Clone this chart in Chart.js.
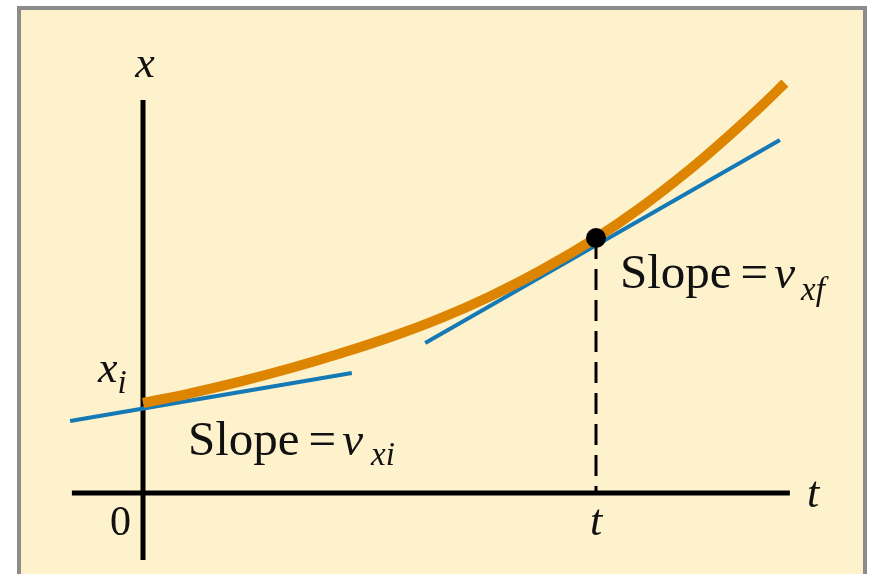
<!DOCTYPE html>
<html lang="en">
<head>
    <meta charset="UTF-8">
    <title>Posición contra tiempo</title>
    <script src="https://cdn.jsdelivr.net/npm/chart.js"></script>
    <style>
        html, body {
            margin: 0;
            padding: 0;
            background: #ffffff;
        }
        body {
            width: 873px;
            height: 574px;
            overflow: hidden;
            position: relative;
        }
        .panel {
            position: absolute;
            left: 17px;
            top: 6px;
            width: 842px;
            height: 600px;
            border: 4px solid #8c8c8c;
            background: #fef2cd;
        }
        #graph {
            position: absolute;
            left: 0;
            top: 0;
        }
    </style>
</head>
<body>
    <div class="panel"></div>
    <canvas id="graph" width="873" height="574"></canvas>

    <script>
        // curva x(t)
        const curveT = [0, 1.04, 2.14, 3.25, 4.35, 5.45, 6.56, 7.66, 8.76, 10, 10.97, 12.08, 12.96, 13.69, 14.17];
        const curveX = [9.0, 9.97, 11.14, 12.47, 13.95, 15.58, 17.47, 19.66, 22.2, 25.5, 28.49, 32.39, 35.83, 38.87, 40.98];

        // tangentes (inicial y final)
        const tangentInT = [-1.61, 4.61];
        const tangentInX = [7.2, 12.0];
        const tangentFinT = [6.23, 14.06];
        const tangentFinX = [15.0, 35.3];

        // punto en t y su guía
        const dotT = [10];
        const dotX = [25.5];
        const guideT = [10, 10];
        const guideX = [25.5, 0];

        // ejes
        const timeAxisT = [-1.57, 14.28];
        const timeAxisX = [0, 0];
        const posAxisT = [0, 0];
        const posAxisX = [39.3, -6.7];

        const toPts = (ts, xs) => ts.map((t, i) => ({ x: t, y: xs[i] }));

        const serif = '"Liberation Serif", "DejaVu Serif", serif';

        function drawRuns(ctx, x, y, runs) {
            let cx = x;
            runs.forEach(r => {
                ctx.font = r.font;
                ctx.fillText(r.text, cx, y + (r.dy || 0));
                cx += ctx.measureText(r.text).width + (r.gap || 0);
            });
        }

        const labelPlugin = {
            id: 'labels',
            afterDatasetsDraw(chart) {
                const ctx = chart.ctx;
                const sx = chart.scales.x;
                const sy = chart.scales.y;
                const px = t => sx.getPixelForValue(t);
                const py = v => sy.getPixelForValue(v);
                const lbl = 'italic 44px ' + serif;
                const big = 'italic 47px ' + serif;
                const sub = 'italic 33px ' + serif;
                const rom = '49px ' + serif;

                ctx.save();
                ctx.fillStyle = '#111';
                ctx.textBaseline = 'alphabetic';

                // x (eje vertical)
                ctx.textAlign = 'center';
                ctx.font = lbl;
                ctx.fillText('x', px(posAxisT[0]) + 2, py(posAxisX[0]) - 23);

                // t (eje horizontal)
                ctx.textAlign = 'left';
                ctx.fillText('t', px(timeAxisT[1]) + 17, py(0) + 14);

                // t bajo el punto
                ctx.textAlign = 'center';
                ctx.fillText('t', px(dotT[0]), py(0) + 42);

                // 0
                ctx.textAlign = 'right';
                ctx.font = '42px ' + serif;
                ctx.fillText('0', px(0) - 12, py(0) + 42);

                // x_i
                ctx.textAlign = 'left';
                drawRuns(ctx, px(0) - 45, py(curveX[0]) - 21, [
                    { text: 'x', font: lbl },
                    { text: 'i', font: sub, dy: 11 }
                ]);

                // Slope = v_xi
                drawRuns(ctx, px(0) + 45, py(0) - 38, [
                    { text: 'Slope', font: rom, gap: 9 },
                    { text: '=', font: rom, gap: 6 },
                    { text: 'v', font: big, gap: 8 },
                    { text: 'xi', font: sub, dy: 10 }
                ]);

                // Slope = v_xf
                drawRuns(ctx, px(dotT[0]) + 24, py(dotX[0]) + 50, [
                    { text: 'Slope', font: rom, gap: 9 },
                    { text: '=', font: rom, gap: 6 },
                    { text: 'v', font: big, gap: 6 },
                    { text: 'xf', font: sub, dy: 12 }
                ]);

                ctx.restore();
            }
        };

        const ctx = document.getElementById('graph').getContext('2d');
        new Chart(ctx, {
            type: 'scatter',
            data: {
                datasets: [
                    {
                        data: toPts(dotT, dotX),
                        pointRadius: 10,
                        pointBackgroundColor: '#000',
                        pointBorderWidth: 0
                    },
                    {
                        data: toPts(curveT, curveX),
                        showLine: true,
                        borderColor: '#dd8500',
                        borderWidth: 10,
                        borderCapStyle: 'butt',
                        tension: 0.4,
                        pointRadius: 0
                    },
                    {
                        data: toPts(tangentInT, tangentInX),
                        showLine: true,
                        borderColor: '#1479b4',
                        borderWidth: 4,
                        pointRadius: 0
                    },
                    {
                        data: toPts(tangentFinT, tangentFinX),
                        showLine: true,
                        borderColor: '#1479b4',
                        borderWidth: 4,
                        pointRadius: 0
                    },
                    {
                        data: toPts(guideT, guideX),
                        showLine: true,
                        borderColor: '#000',
                        borderWidth: 3,
                        borderDash: [21, 10],
                        pointRadius: 0
                    },
                    {
                        data: toPts(timeAxisT, timeAxisX),
                        showLine: true,
                        borderColor: '#000',
                        borderWidth: 5,
                        borderCapStyle: 'butt',
                        pointRadius: 0
                    },
                    {
                        data: toPts(posAxisT, posAxisX),
                        showLine: true,
                        borderColor: '#000',
                        borderWidth: 5,
                        borderCapStyle: 'butt',
                        pointRadius: 0
                    }
                ]
            },
            options: {
                responsive: false,
                animation: false,
                layout: { padding: 0, autoPadding: false },
                scales: {
                    x: { type: 'linear', display: false, min: -3.157, max: 16.115 },
                    y: { type: 'linear', display: false, min: -8.1, max: 49.3 }
                },
                plugins: {
                    legend: { display: false },
                    tooltip: { enabled: false }
                }
            },
            plugins: [labelPlugin]
        });
    </script>
</body>
</html>
